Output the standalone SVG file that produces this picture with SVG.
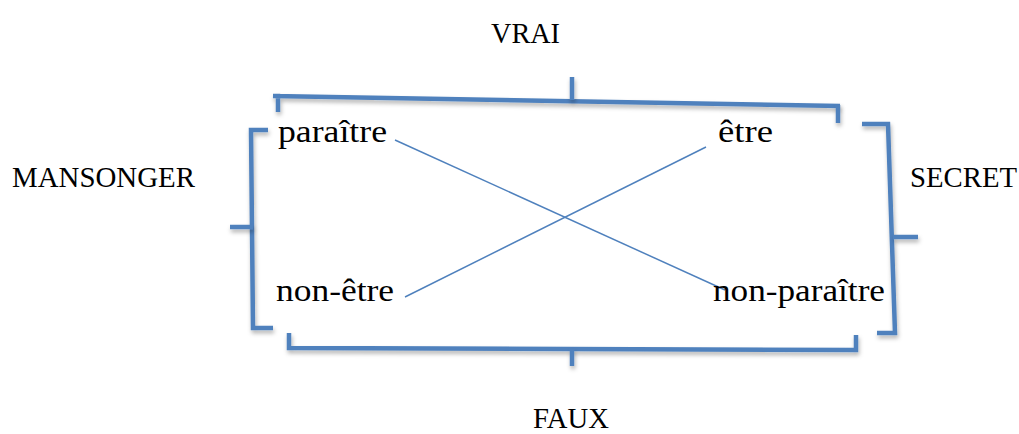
<svg xmlns="http://www.w3.org/2000/svg" width="1019" height="434" viewBox="0 0 1019 434">
<defs>
<filter id="sh" filterUnits="userSpaceOnUse" x="0" y="0" width="1019" height="434">
<feDropShadow dx="1" dy="3" stdDeviation="2" flood-color="#000" flood-opacity="0.3"/>
</filter>
<style>
.br{fill:none;stroke:#4F81BD;stroke-width:4.5;stroke-linecap:butt;stroke-linejoin:miter;filter:url(#sh)}
.ln{stroke:#4F81BD;stroke-width:1.5;fill:none}
text{font-family:"Liberation Serif","DejaVu Serif",serif;font-size:29px;fill:#000}
.nd{font-size:31px}
</style>
</defs>
<rect width="1019" height="434" fill="#fff"/>
<g id="bracket-vrai">
<path class="br" d="M278,112 L278,96 L273,96 L840,106"/>
<path class="br" d="M572,77 L572,100"/>
<path class="br" d="M838,105 L838,123"/>
</g>
<g id="bracket-secret">
<path class="br" d="M862,124 L888,124 L895,333 L877,333"/>
<path class="br" d="M893,237 L918,237"/>
</g>
<g id="bracket-mensonge">
<path class="br" d="M268,130 L251,130 L253,328 L273,328"/>
<path class="br" d="M230,227 L253,227"/>
</g>
<g id="bracket-faux">
<path class="br" d="M289,333 L289,348 L856,350 L856,335"/>
<path class="br" d="M572,349 L572,366"/>
</g>
<g id="connectors">
<line class="ln" x1="395" y1="140" x2="725" y2="290"/>
<line class="ln" x1="706" y1="147" x2="405" y2="297"/>
</g>
<g id="labels">
<text x="491" y="43" textLength="69" lengthAdjust="spacingAndGlyphs">VRAI</text>
<text x="12" y="187" textLength="183" lengthAdjust="spacingAndGlyphs">MANSONGER</text>
<text x="910" y="187" textLength="107" lengthAdjust="spacingAndGlyphs">SECRET</text>
<text x="533" y="428" textLength="76" lengthAdjust="spacingAndGlyphs">FAUX</text>
</g>
<g id="node-paraitre"><text class="nd" x="278" y="142" textLength="109" lengthAdjust="spacingAndGlyphs">paraître</text></g>
<g id="node-etre"><text class="nd" x="718" y="142" textLength="55" lengthAdjust="spacingAndGlyphs">être</text></g>
<g id="node-non-etre"><text class="nd" x="276" y="301" textLength="118" lengthAdjust="spacingAndGlyphs">non-être</text></g>
<g id="node-non-paraitre"><text class="nd" x="713" y="301" textLength="172" lengthAdjust="spacingAndGlyphs">non-paraître</text></g>
</svg>
